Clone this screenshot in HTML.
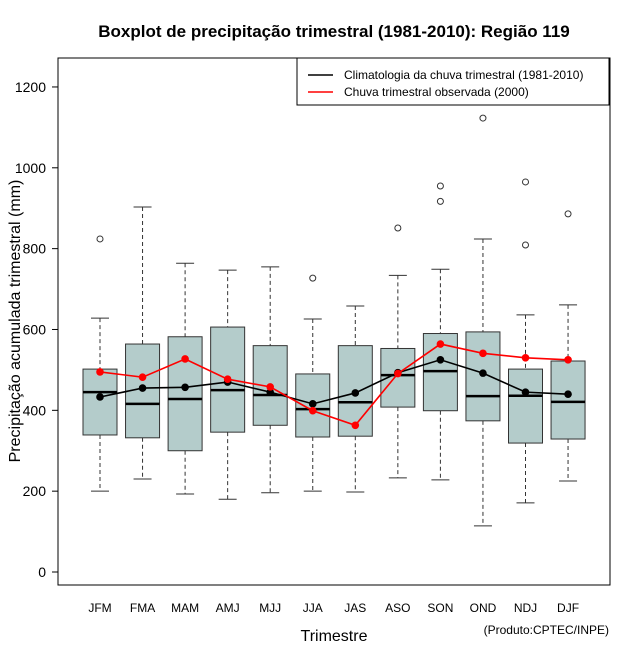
<!DOCTYPE html>
<html><head><meta charset="utf-8"><style>
body{margin:0;background:#fff;}
svg{display:block;font-family:"Liberation Sans",sans-serif;}
</style></head><body>
<svg id="chart" width="640" height="660" viewBox="0 0 640 660">
<rect width="640" height="660" fill="#fff"/>
<text x="334" y="37" text-anchor="middle" font-size="17" font-weight="bold">Boxplot de precipitação trimestral (1981-2010): Região 119</text>
<rect x="58" y="58" width="552" height="527" fill="none" stroke="#000"/>
<g id="yaxis"></g>
<g id="xaxis"></g>
<g id="boxes"></g>
<g id="lines"></g>
<text x="20" y="321" transform="rotate(-90 20 321)" text-anchor="middle" font-size="16">Precipitação acumulada trimestral (mm)</text>
<text x="334" y="641" text-anchor="middle" font-size="16">Trimestre</text>
<text x="609" y="634" text-anchor="end" font-size="12">(Produto:CPTEC/INPE)</text>
<g>
<rect x="297" y="58" width="312" height="47" fill="#fff" stroke="#000"/>
<line x1="308" y1="75" x2="333" y2="75" stroke="#000" stroke-width="1.5"/>
<text x="344" y="79" font-size="12">Climatologia da chuva trimestral (1981-2010)</text>
<line x1="308" y1="92" x2="333" y2="92" stroke="#f00" stroke-width="1.5"/>
<text x="344" y="96" font-size="12">Chuva trimestral observada (2000)</text>
</g>
</svg>
<script>
const categories=["JFM","FMA","MAM","AMJ","MJJ","JJA","JAS","ASO","SON","OND","NDJ","DJF"];
const whiskerLow=[200,230,193,180,196,200,198,233,228,114,171,225];
const q1=[339,332,300,346,363,334,336,408,399,374,319,329];
const median=[445,416,428,450,438,403,420,487,497,435,436,421];
const q3=[502,564,582,606,560,490,560,553,590,594,502,522];
const whiskerHigh=[628,903,764,747,755,626,658,734,749,824,636,661];
const outliers=[[824],[],[],[],[],[727],[],[851],[955,917],[1123],[965,809],[886]];
const climatology=[433,455,457,470,445,416,443,493,525,492,445,440];
const observed=[495,482,527,477,458,399,363,491,564,541,530,525];
const yTicks=[0,200,400,600,800,1000,1200];

const NS="http://www.w3.org/2000/svg";
const y=v=>572-v*0.4042;
const x=i=>100+i*42.55;
function mk(tag,attrs,parent){const e=document.createElementNS(NS,tag);for(const k in attrs)e.setAttribute(k,attrs[k]);parent.appendChild(e);return e;}
const ya=document.getElementById('yaxis'),xa=document.getElementById('xaxis'),bx=document.getElementById('boxes'),ln=document.getElementById('lines');
yTicks.forEach(t=>{
  const l=mk('line',{x1:52,x2:58,y1:y(t),y2:y(t),stroke:'#000'},ya);
  
  
  const tx=mk('text',{x:46,y:y(t)+5,'text-anchor':'end','font-size':14},ya);
  tx.textContent=t;
  
  
});
categories.forEach((c,i)=>{
  const tx=mk('text',{x:x(i),y:612,'text-anchor':'middle','font-size':12},xa);
  tx.textContent=c;
  
  
  const g=mk('g',{},bx);
  
  
  const cx=x(i),hw=17;
  mk('line',{x1:cx,x2:cx,y1:y(whiskerHigh[i]),y2:y(q3[i]),stroke:'#333','stroke-dasharray':'4,3'},g);
  mk('line',{x1:cx,x2:cx,y1:y(q1[i]),y2:y(whiskerLow[i]),stroke:'#333','stroke-dasharray':'4,3'},g);
  mk('line',{x1:cx-9,x2:cx+9,y1:y(whiskerHigh[i]),y2:y(whiskerHigh[i]),stroke:'#333'},g);
  mk('line',{x1:cx-9,x2:cx+9,y1:y(whiskerLow[i]),y2:y(whiskerLow[i]),stroke:'#333'},g);
  mk('rect',{x:cx-hw,y:y(q3[i]),width:2*hw,height:y(q1[i])-y(q3[i]),fill:'#b4cccb',stroke:'#333'},g);
  mk('line',{x1:cx-hw,x2:cx+hw,y1:y(median[i]),y2:y(median[i]),stroke:'#000','stroke-width':2.5},g);
  outliers[i].forEach(o=>{mk('circle',{cx:cx,cy:y(o),r:3,fill:'none',stroke:'#333'},g);});
});
function series(vals,col,name){
  const p=mk('polyline',{points:vals.map((v,i)=>x(i)+','+y(v)).join(' '),fill:'none',stroke:col,'stroke-width':1.6},ln);
  
  
  vals.forEach((v,i)=>{
    const c=mk('circle',{cx:x(i),cy:y(v),r:3.8,fill:col},ln);
    
    
  });
}
series(climatology,'#000','climatology');
series(observed,'#f00','observed');
</script>
</body></html>
